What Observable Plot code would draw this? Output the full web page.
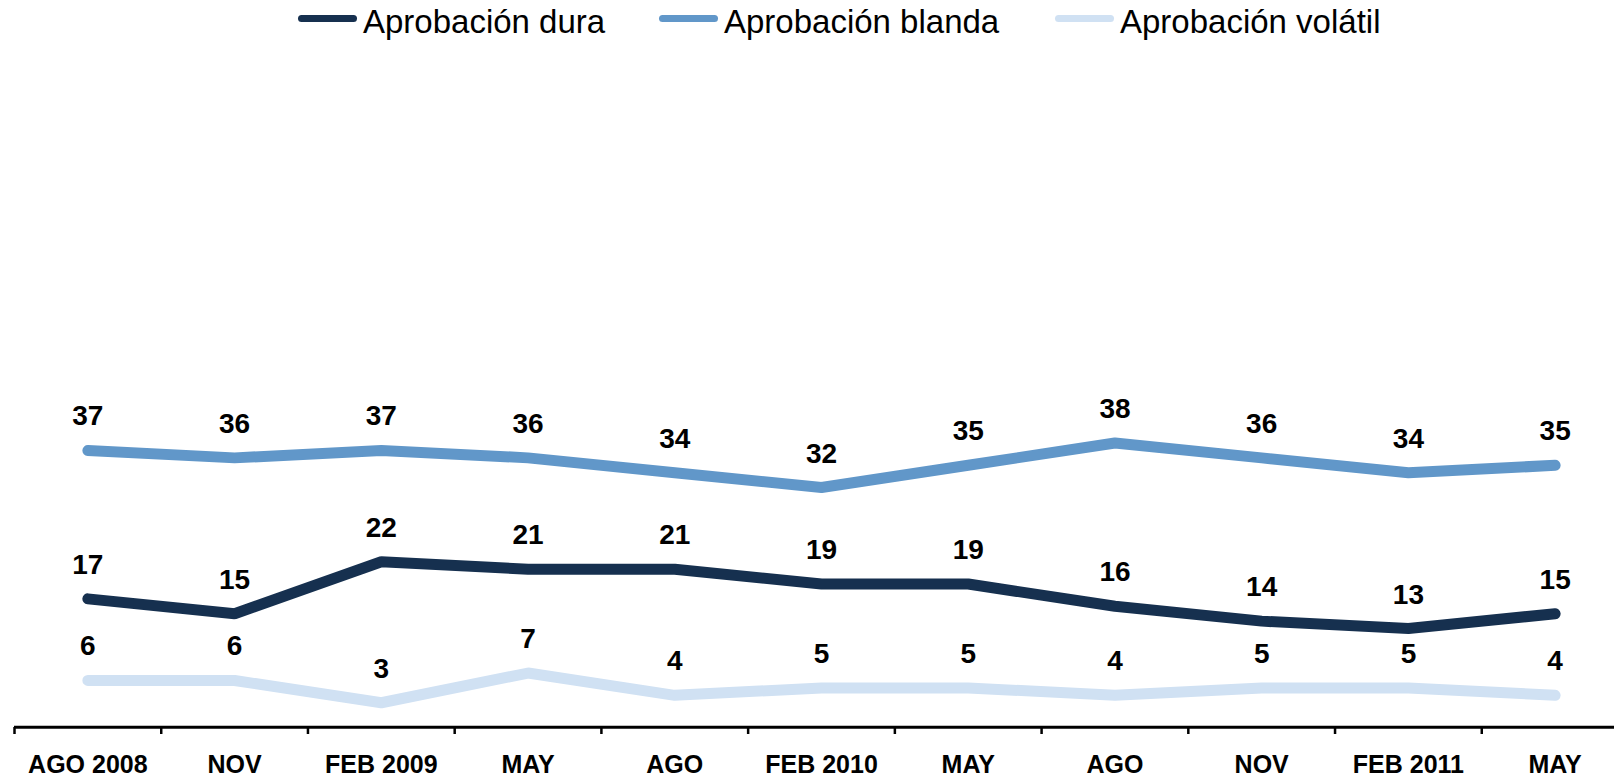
<!DOCTYPE html>
<html>
<head>
<meta charset="utf-8">
<script src="https://cdn.jsdelivr.net/npm/d3@7"></script>
<script src="https://cdn.jsdelivr.net/npm/@observablehq/plot@0.6"></script>
<style>
  html, body { margin: 0; padding: 0; background: #fff; }
  body { width: 1614px; height: 780px; overflow: hidden; font-family: "Liberation Sans", Arial, sans-serif; }
  #legend { position: relative; width: 1614px; height: 50px; }
  .sw { position: absolute; height: 7px; border-radius: 4px; top: 15px; width: 59px; }
  .lt { position: absolute; top: 5px; font-size: 33px; line-height: 33px; color: #000; white-space: nowrap; }
  #chart svg { display: block; }
</style>
</head>
<body>
<div id="legend"></div>
<div id="chart"></div>
<script>
const categories = ["AGO 2008","NOV","FEB 2009","MAY","AGO","FEB 2010","MAY","AGO","NOV","FEB 2011","MAY"];
const dura    = [17,15,22,21,21,19,19,16,14,13,15];
const blanda  = [37,36,37,36,34,32,35,38,36,34,35];
const volatil = [6,6,3,7,4,5,5,4,5,5,4];
const seriesNames = ["Aprobación dura","Aprobación blanda","Aprobación volátil"];
const seriesColors = ["#16304f","#6197c9","#d0e1f3"];
const seriesValues = [dura, blanda, volatil];

// legend
const legendX = [298, 659, 1055];
const legend = document.getElementById("legend");
seriesNames.forEach((name, k) => {
  const sw = document.createElement("div");
  sw.className = "sw";
  sw.style.left = legendX[k] + "px";
  sw.style.background = seriesColors[k];
  legend.appendChild(sw);
  const t = document.createElement("span");
  t.className = "lt";
  t.style.left = (legendX[k] + 65) + "px";
  t.textContent = name;
  legend.appendChild(t);
});

const rows = [];
seriesValues.forEach((vals, k) => vals.forEach((v, i) => rows.push({i, value: v, series: seriesNames[k]})));

const n = categories.length;
const boundaries = d3.range(n + 1).map(i => i - 0.5);

const chart = Plot.plot({
  width: 1614,
  height: 730,
  marginLeft: 14,
  marginRight: 0,
  marginTop: 0,
  marginBottom: 53,
  style: {fontFamily: "'Liberation Sans', Arial, sans-serif", background: "#fff", color: "#000"},
  x: {domain: [-0.5, n - 0.5], range: [14, 1628], label: null, axis: null},
  y: {domain: [0, 40], range: [674.5, 377.7], label: null, axis: null},
  color: {domain: seriesNames, range: seriesColors},
  marks: [
    Plot.ruleY([0], {x1: -0.5, x2: n - 0.5, dy: 2.3, stroke: "#000", strokeWidth: 3}),
    Plot.axisX({ticks: boundaries, tickFormat: () => "", tickSize: 7, stroke: "#000", strokeWidth: 2.5, label: null}),
    Plot.axisX({ticks: d3.range(n), tickFormat: i => categories[i], tickSize: 0, tickPadding: 28,
      fontSize: 25, fontWeight: "bold", fill: "#000", label: null}),
    Plot.line(rows, {x: "i", y: "value", z: "series", stroke: "series", strokeWidth: 11,
      strokeLinecap: "round", strokeLinejoin: "miter"}),
    Plot.text(rows, {x: "i", y: "value", text: d => String(d.value), fontSize: 28, fontWeight: "bold",
      fill: "#000", lineAnchor: "middle", dy: -34})
  ]
});
document.getElementById("chart").appendChild(chart);
</script>
</body>
</html>
